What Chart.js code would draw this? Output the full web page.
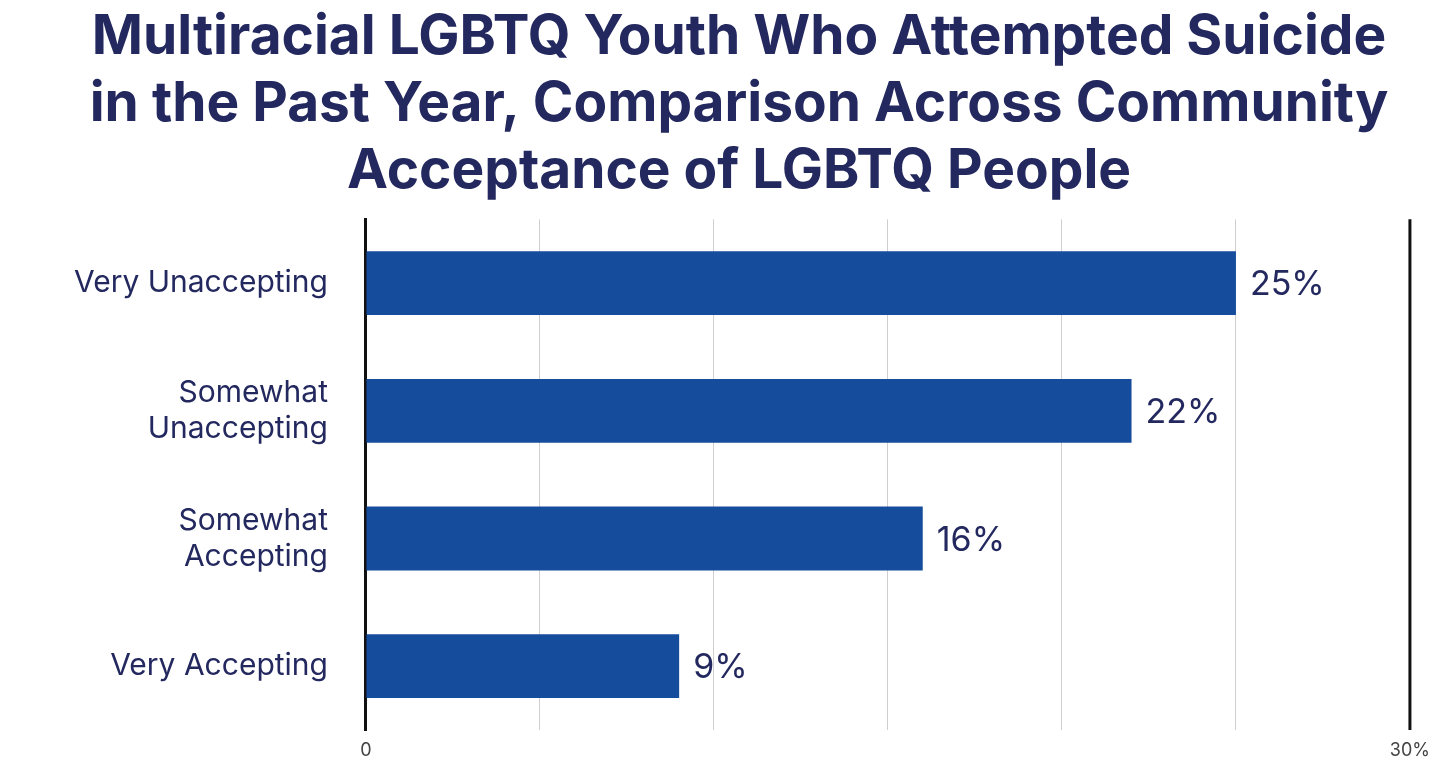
<!DOCTYPE html>
<html>
<head>
<meta charset="utf-8">
<script src="https://cdn.jsdelivr.net/npm/chart.js@4"></script>
<style>
  html, body { margin: 0; padding: 0; background: #fff; }
  #wrap { width: 1440px; height: 778px; position: relative; }
</style>
</head>
<body>
<div id="wrap"><canvas id="chart"></canvas></div>
<script>
const titleLines = [
  'Multiracial LGBTQ Youth Who Attempted Suicide',
  'in the Past Year, Comparison Across Community',
  'Acceptance of LGBTQ People'
];
const categories = [
  'Very Unaccepting',
  ['Somewhat', 'Unaccepting'],
  ['Somewhat', 'Accepting'],
  'Very Accepting'
];
const values = [25, 22, 16, 9];
const xMax = 30;

const navy = '#23285f';

// value labels after each bar, plus the closing line at 30%
const extras = {
  id: 'extras',
  afterDatasetsDraw(chart) {
    const ctx = chart.ctx;
    const meta = chart.getDatasetMeta(0);
    ctx.save();
    ctx.font = '34px Inter';
    ctx.fillStyle = navy;
    ctx.textBaseline = 'middle';
    meta.data.forEach((bar, i) => {
      ctx.fillText(values[i] + '%', bar.x + 14, bar.y + 2);
    });
    const x = chart.scales.x.getPixelForValue(xMax);
    ctx.strokeStyle = '#111';
    ctx.lineWidth = 3;
    ctx.beginPath();
    ctx.moveTo(x, chart.chartArea.top);
    ctx.lineTo(x, chart.chartArea.bottom);
    ctx.stroke();
    ctx.restore();
  }
};

new Chart(document.getElementById('chart'), {
  type: 'bar',
  data: {
    labels: categories,
    datasets: [{
      data: values,
      backgroundColor: '#154c9c',
      barPercentage: 0.5,
      categoryPercentage: 1
    }]
  },
  options: {
    indexAxis: 'y',
    responsive: true,
    maintainAspectRatio: false,
    animation: false,
    layout: { padding: { left: 44, right: 6, top: 0, bottom: 0 } },
    plugins: {
      legend: { display: false },
      tooltip: { enabled: false },
      title: {
        display: true,
        text: titleLines,
        color: navy,
        font: { family: 'Inter', size: 55, weight: 'bold', lineHeight: 1.22 },
        padding: { top: 4, bottom: 14 }
      }
    },
    scales: {
      x: {
        min: 0,
        max: xMax,
        ticks: {
          stepSize: 5,
          color: '#444',
          font: { family: 'Inter', size: 18 },
          padding: 10,
          callback: v => v === 0 ? '0' : (v === xMax ? v + '%' : '')
        },
        grid: { color: '#cfcfcf', lineWidth: 1, drawTicks: false },
        border: { display: false }
      },
      y: {
        ticks: {
          color: navy,
          font: { family: 'Inter', size: 30 },
          padding: 30
        },
        grid: { display: false },
        border: { color: '#111', width: 3 }
      }
    }
  },
  plugins: [extras]
});
</script>
</body>
</html>
